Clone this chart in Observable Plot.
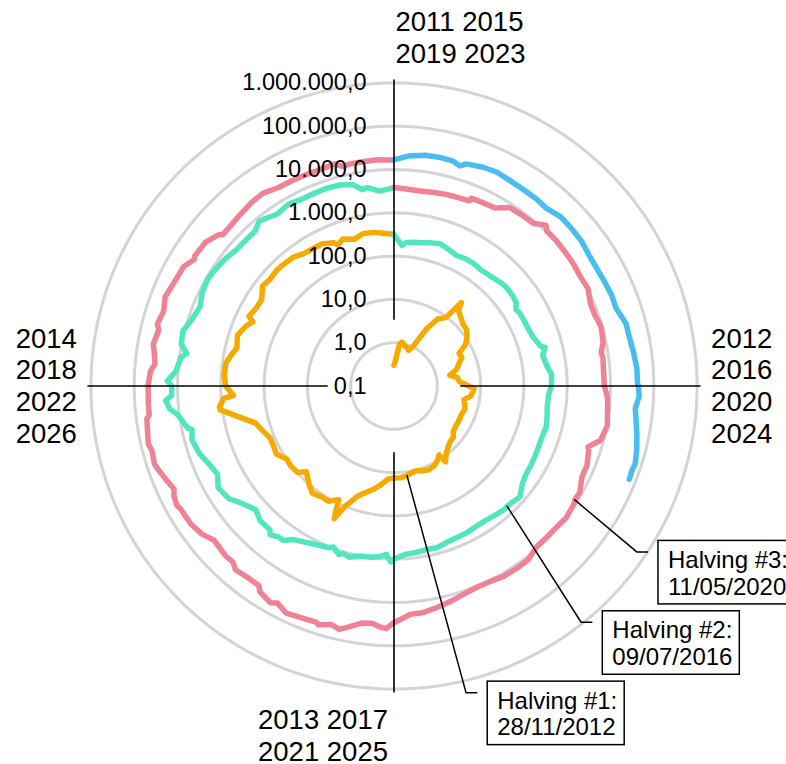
<!DOCTYPE html>
<html>
<head>
<meta charset="utf-8">
<script src="https://cdn.jsdelivr.net/npm/d3@7"></script>
<script src="https://cdn.jsdelivr.net/npm/@observablehq/plot@0.6"></script>
<style>
  html, body { margin: 0; padding: 0; background: #fff; overflow: hidden; }
  #chart svg { display: block; }
</style>
</head>
<body>
<div id="chart"></div>
<script>
// ---------------- DATA ----------------
const TICK_VALUES = [0.1, 1, 10, 100, 1000, 10000, 100000, 1000000];
const QUADRANT_LABELS = ["2011 2015\n2019 2023", "2012\n2016\n2020\n2024", "2013 2017\n2021 2025", "2014\n2018\n2022\n2026"];
const CYCLE_COLORS = ["#f5aa00", "#52e6be", "#f08296", "#48bef0"];
const CYCLE_START_YEAR = 2011;
const CYCLE_YEARS = 4;

const cycle2011 = [
  ["2011-01-01",0.30],["2011-01-15",0.40],["2011-02-01",0.95],["2011-02-10",1.06],["2011-02-15",1.05],["2011-03-01",0.92],
  ["2011-03-15",0.87],["2011-04-01",0.78],["2011-04-15",1.00],["2011-05-01",3.2],["2011-05-15",7.0],["2011-06-01",9.6],
  ["2011-06-08",29.6],["2011-06-15",19.5],["2011-07-01",16.1],["2011-07-15",13.8],["2011-08-01",13.3],["2011-08-15",11.0],
  ["2011-09-01",8.2],["2011-09-15",4.8],["2011-10-01",5.0],["2011-10-15",3.9],["2011-11-01",3.2],["2011-11-18",2.05],
  ["2011-12-01",3.0],["2011-12-15",3.2],
  ["2012-01-01",5.3],["2012-01-09",7.1],["2012-01-15",6.8],["2012-02-01",6.1],["2012-02-15",4.4],["2012-03-01",4.9],
  ["2012-03-15",5.3],["2012-04-01",4.9],["2012-04-15",4.95],["2012-05-01",5.0],["2012-05-15",5.0],["2012-06-01",5.3],
  ["2012-06-15",6.5],["2012-07-01",6.7],["2012-07-15",7.6],["2012-08-01",9.4],["2012-08-15",13.2],["2012-08-19",8.0],
  ["2012-09-01",10.0],["2012-09-15",11.7],["2012-10-01",12.4],["2012-10-15",11.8],["2012-11-01",10.6],["2012-11-15",11.2],
  ["2012-11-28",12.35],["2012-12-01",12.6],["2012-12-15",13.4],
  ["2013-01-01",13.3],["2013-01-15",14.2],["2013-02-01",20.4],["2013-02-15",27],["2013-03-01",34.5],["2013-03-15",47],
  ["2013-04-01",104],["2013-04-09",230],["2013-04-16",83],["2013-05-01",116],["2013-05-15",114],["2013-06-01",129],
  ["2013-06-15",100],["2013-07-05",68],["2013-07-15",98],["2013-08-01",104],["2013-08-15",99],["2013-09-01",138],
  ["2013-09-15",128],["2013-10-01",127],["2013-10-15",156],["2013-11-01",206],["2013-11-15",420],["2013-11-30",1130],
  ["2013-12-04",1150],["2013-12-15",870],["2013-12-18",520],["2013-12-31",750],
  ["2014-01-01",770],["2014-01-15",850],["2014-02-01",830],["2014-02-15",650],["2014-02-25",540],["2014-03-01",560],
  ["2014-03-15",630],["2014-04-01",480],["2014-04-10",380],["2014-04-15",520],["2014-05-01",450],["2014-05-15",445],
  ["2014-06-01",650],["2014-06-15",600],["2014-07-01",640],["2014-07-15",620],["2014-08-01",590],["2014-08-15",500],
  ["2014-09-01",480],["2014-09-15",475],["2014-10-01",385],["2014-10-05",320],["2014-10-15",395],["2014-11-01",325],
  ["2014-11-15",390],["2014-12-01",380],["2014-12-15",345],["2014-12-31",320]
];

const cycle2015 = [
  ["2015-01-01",315],["2015-01-14",178],["2015-01-20",210],["2015-02-01",225],["2015-02-15",235],["2015-03-01",260],
  ["2015-03-15",285],["2015-04-01",245],["2015-04-15",220],["2015-05-01",235],["2015-05-15",237],["2015-06-01",223],
  ["2015-06-15",235],["2015-07-01",258],["2015-07-15",285],["2015-08-01",280],["2015-08-15",260],["2015-08-24",210],
  ["2015-09-01",228],["2015-09-15",230],["2015-10-01",237],["2015-10-15",255],["2015-11-01",325],["2015-11-04",400],
  ["2015-11-15",320],["2015-12-01",360],["2015-12-15",445],
  ["2016-01-01",434],["2016-01-15",375],["2016-02-01",372],["2016-02-15",400],["2016-03-01",435],["2016-03-15",415],
  ["2016-04-01",417],["2016-04-15",430],["2016-05-01",450],["2016-05-15",457],["2016-06-01",537],["2016-06-17",750],
  ["2016-07-01",675],["2016-07-09",650],["2016-07-15",665],["2016-08-01",610],["2016-08-15",570],["2016-09-01",572],
  ["2016-09-15",607],["2016-10-01",612],["2016-10-15",640],["2016-11-01",730],["2016-11-15",710],["2016-12-01",755],
  ["2016-12-15",780],
  ["2017-01-01",1000],["2017-01-05",1150],["2017-01-11",780],["2017-01-20",895],["2017-02-01",985],["2017-02-15",1010],
  ["2017-03-01",1220],["2017-03-10",1100],["2017-03-15",1245],["2017-03-25",940],["2017-04-01",1085],["2017-04-15",1175],
  ["2017-05-01",1420],["2017-05-15",1720],["2017-05-25",2450],["2017-06-01",2450],["2017-06-11",2950],["2017-06-15",2440],
  ["2017-07-01",2440],["2017-07-15",1930],["2017-08-01",2720],["2017-08-15",4200],["2017-09-01",4900],["2017-09-15",3600],
  ["2017-10-01",4400],["2017-10-15",5700],["2017-11-01",6750],["2017-11-12",5900],["2017-11-15",7300],["2017-12-01",10900],
  ["2017-12-08",16000],["2017-12-17",19300],["2017-12-22",13800],
  ["2018-01-01",13600],["2018-01-06",17200],["2018-01-16",11300],["2018-02-01",9200],["2018-02-06",7000],["2018-02-15",10200],
  ["2018-03-01",10900],["2018-03-15",8300],["2018-04-01",6900],["2018-04-15",8350],["2018-05-01",9100],["2018-05-15",8500],
  ["2018-06-01",7500],["2018-06-15",6500],["2018-07-01",6350],["2018-07-15",6350],["2018-07-25",8200],["2018-08-01",7600],
  ["2018-08-15",6300],["2018-09-01",7200],["2018-09-15",6500],["2018-10-01",6600],["2018-10-15",6700],["2018-11-01",6400],
  ["2018-11-15",5600],["2018-11-25",3900],["2018-12-01",4200],["2018-12-15",3250],["2018-12-31",3750]
];

const cycle2019 = [
  ["2019-01-01",3850],["2019-01-15",3600],["2019-02-01",3480],["2019-02-15",3620],["2019-03-01",3820],["2019-03-15",3930],
  ["2019-04-01",4150],["2019-04-02",4900],["2019-04-15",5050],["2019-05-01",5350],["2019-05-15",8200],["2019-06-01",8550],
  ["2019-06-15",8850],["2019-06-26",12900],["2019-07-01",10600],["2019-07-15",10800],["2019-08-01",10400],["2019-08-15",10300],
  ["2019-09-01",9750],["2019-09-15",10300],["2019-10-01",8300],["2019-10-15",8300],["2019-10-26",9250],["2019-11-01",9250],
  ["2019-11-15",8500],["2019-11-25",7000],["2019-12-01",7400],["2019-12-15",7100],
  ["2020-01-01",7200],["2020-01-15",8800],["2020-02-01",9400],["2020-02-13",10300],["2020-03-01",8550],["2020-03-12",4950],
  ["2020-03-15",5400],["2020-04-01",6600],["2020-04-15",6650],["2020-05-01",8800],["2020-05-11",8600],["2020-05-15",9300],
  ["2020-06-01",10200],["2020-06-15",9400],["2020-07-01",9200],["2020-07-15",9200],["2020-08-01",11800],["2020-08-15",11900],
  ["2020-09-01",11900],["2020-09-15",10800],["2020-10-01",10600],["2020-10-15",11500],["2020-11-01",13800],["2020-11-15",15900],
  ["2020-12-01",18800],["2020-12-15",19400],["2020-12-31",29000],
  ["2021-01-01",29400],["2021-01-08",40600],["2021-01-15",36800],["2021-01-22",32000],["2021-02-01",33500],["2021-02-15",48700],
  ["2021-02-21",57500],["2021-03-01",49600],["2021-03-13",61200],["2021-03-15",55700],["2021-04-01",58800],["2021-04-14",63500],
  ["2021-04-25",49000],["2021-05-01",57800],["2021-05-15",46700],["2021-05-19",37000],["2021-06-01",36700],["2021-06-15",40200],
  ["2021-06-22",32500],["2021-07-01",33500],["2021-07-20",29800],["2021-08-01",39900],["2021-08-15",47000],["2021-09-01",48800],
  ["2021-09-06",52700],["2021-09-15",48100],["2021-09-21",40700],["2021-10-01",48200],["2021-10-15",61500],["2021-10-20",66000],
  ["2021-11-01",61000],["2021-11-08",67500],["2021-11-15",63500],["2021-12-01",57200],["2021-12-04",49400],["2021-12-15",48900],
  ["2022-01-01",47700],["2022-01-15",43000],["2022-01-22",35000],["2022-02-01",38500],["2022-02-10",44000],["2022-02-24",38300],
  ["2022-03-01",44400],["2022-03-15",39300],["2022-03-28",47100],["2022-04-15",40500],["2022-05-01",38500],["2022-05-12",28900],
  ["2022-05-15",31300],["2022-06-01",29800],["2022-06-15",22500],["2022-06-18",19000],["2022-07-01",19300],["2022-07-15",20800],
  ["2022-08-01",23300],["2022-08-15",24100],["2022-09-01",20100],["2022-09-15",19700],["2022-10-01",19300],["2022-10-15",19100],
  ["2022-11-01",20500],["2022-11-09",15900],["2022-11-15",16900],["2022-12-01",17000],["2022-12-15",17400],["2022-12-31",16550]
];

const cycle2023 = [
  ["2023-01-01",16600],["2023-01-15",20900],["2023-02-01",23700],["2023-02-15",24300],["2023-03-01",23600],["2023-03-10",20200],
  ["2023-03-15",24700],["2023-04-01",28500],["2023-04-15",30300],["2023-05-01",28000],["2023-05-15",27200],["2023-06-01",26800],
  ["2023-06-15",25600],["2023-07-01",30600],["2023-07-15",30300],["2023-08-01",29700],["2023-08-17",26600],["2023-09-01",25900],
  ["2023-09-15",26600],["2023-10-01",27900],["2023-10-15",27200],["2023-11-01",35400],["2023-11-15",35600],["2023-12-01",38700],
  ["2023-12-15",41900],["2023-12-31",42300],
  ["2024-01-01",44200],["2024-01-11",46300],["2024-01-23",39500],["2024-02-01",43100],["2024-02-15",51900],["2024-03-01",62400],
  ["2024-03-14",71400],["2024-03-20",67900],["2024-03-29",69900]
];

const HALVING_DATES  = ["2012-11-28", "2016-07-09", "2020-05-11"];
const HALVING_PRICES = [12.35, 650, 8600];
const HALVING_LABELS = ["Halving #1:\n28/11/2012", "Halving #2:\n09/07/2016", "Halving #3:\n11/05/2020"];

// ---------------- LAYOUT (pixels) ----------------
const W = 786, H = 764;
const CX = 393.5, CY = 385.5, R_OUT = 303.1;   // centre and outer ring radius
const R_MAX = 7;                                  // decades from 0.1 to 1,000,000
const PX = R_OUT / R_MAX;                         // pixels per decade
const LABEL_ELBOWS = [[59, 217], [74, 116], [62, 52]]; // connector elbow offset from point (px)
const BOX_W = 137, BOX_H = 63.5;

// ---------------- TRANSFORMS ----------------
const t0 = Date.UTC(CYCLE_START_YEAR, 0, 1);
const YEAR_MS = 365.25 * 864e5;
const radiusOf = v => Math.log10(v) + 1;
function polar(dateStr, price) {
  const d = new Date(dateStr + "T00:00:00Z");
  const yrs = (d - t0) / YEAR_MS;
  const cycle = Math.floor(yrs / CYCLE_YEARS);
  const a = 2 * Math.PI * (yrs - cycle * CYCLE_YEARS) / CYCLE_YEARS;
  const r = radiusOf(price);
  return {date: d, price, cycle, x: r * Math.sin(a), y: r * Math.cos(a)};
}

const series = [cycle2011, cycle2015, cycle2019, cycle2023]
  .flatMap((arr, i) => arr.map(([d, p]) => ({...polar(d, p), cycle: i})));

const rings = TICK_VALUES.slice(1).flatMap(v =>
  d3.range(0, 361, 2).map(deg => ({ring: v, x: radiusOf(v) * Math.sin(deg * Math.PI / 180), y: radiusOf(v) * Math.cos(deg * Math.PI / 180)})));

const AXIS_R0 = 1.53, AXIS_R1 = 7.08;
const axes = [0, 90, 180, 270].map(deg => {
  const a = deg * Math.PI / 180;
  return {x1: AXIS_R0 * Math.sin(a), y1: AXIS_R0 * Math.cos(a), x2: AXIS_R1 * Math.sin(a), y2: AXIS_R1 * Math.cos(a)};
});

const fmt = d3.formatLocale({decimal: ",", thousands: ".", grouping: [3], currency: ["", ""]}).format(",.1f");

const annotations = HALVING_DATES.map((d, i) => {
  const p = polar(d, HALVING_PRICES[i]);
  const [ex, ey] = LABEL_ELBOWS[i];
  const elbow = {x: p.x + ex / PX, y: p.y - ey / PX};
  const end = {x: elbow.x + 10.7 / PX, y: elbow.y};
  const bx1 = end.x + 11 / PX, by1 = end.y + 11 / PX;
  return {
    path: [{k: i, x: p.x, y: p.y}, {k: i, ...elbow}, {k: i, ...end}],
    box: {x1: bx1, x2: bx1 + BOX_W / PX, y1: by1, y2: by1 - BOX_H / PX},
    text: {x: bx1 + 9.5 / PX, y: by1 - BOX_H / 2 / PX, label: HALVING_LABELS[i]}
  };
});

const FONT = "'Liberation Sans', Arial, Helvetica, sans-serif";

const chart = Plot.plot({
  width: W, height: H,
  marginLeft: CX - R_OUT, marginRight: W - (CX + R_OUT),
  marginTop: CY - R_OUT, marginBottom: H - (CY + R_OUT),
  x: {domain: [-R_MAX, R_MAX], axis: null},
  y: {domain: [-R_MAX, R_MAX], axis: null},
  color: {domain: [0, 1, 2, 3], range: CYCLE_COLORS},
  style: {fontFamily: FONT, background: "white", overflow: "hidden"},
  marks: [
    Plot.line(rings, {x: "x", y: "y", z: "ring", stroke: "#d4d4d4", strokeWidth: 3}),
    Plot.line(series, {x: "x", y: "y", z: "cycle", stroke: "cycle", strokeWidth: 5.5, strokeLinecap: "round", strokeLinejoin: "round"}),
    Plot.link(axes, {x1: "x1", y1: "y1", x2: "x2", y2: "y2", stroke: "black", strokeWidth: 1.6}),
    Plot.text(TICK_VALUES, {x: 0, y: v => radiusOf(v), text: v => fmt(v), textAnchor: "end", dx: -27.5, fontSize: 23.5, fill: "black"}),
    Plot.text([QUADRANT_LABELS[0]], {x: 0, y: R_MAX, text: d => d, textAnchor: "start", dx: 1.5, dy: -46.5, fontSize: 27.5, lineHeight: 1.16, fill: "black"}),
    Plot.text([QUADRANT_LABELS[1]], {x: R_MAX, y: 0, text: d => d, textAnchor: "start", dx: 14, dy: -1, fontSize: 27.5, lineHeight: 1.15, fill: "black"}),
    Plot.text([QUADRANT_LABELS[2]], {x: 0, y: -R_MAX, text: d => d, textAnchor: "end", dx: -6, dy: 45.5, fontSize: 27.5, lineHeight: 1.15, fill: "black"}),
    Plot.text([QUADRANT_LABELS[3]], {x: -R_MAX, y: 0, text: d => d, textAnchor: "end", dx: -14, dy: -1, fontSize: 27.5, lineHeight: 1.15, fill: "black"}),
    Plot.line(annotations.flatMap(a => a.path), {x: "x", y: "y", z: "k", stroke: "black", strokeWidth: 1.5}),
    Plot.rect(annotations.map(a => a.box), {x1: "x1", x2: "x2", y1: "y1", y2: "y2", fill: "white", stroke: "black", strokeWidth: 1.5}),
    Plot.text(annotations.map(a => a.text), {x: "x", y: "y", text: "label", textAnchor: "start", fontSize: 24, lineHeight: 1.11, fill: "black"})
  ]
});
document.getElementById("chart").appendChild(chart);
</script>
</body>
</html>
